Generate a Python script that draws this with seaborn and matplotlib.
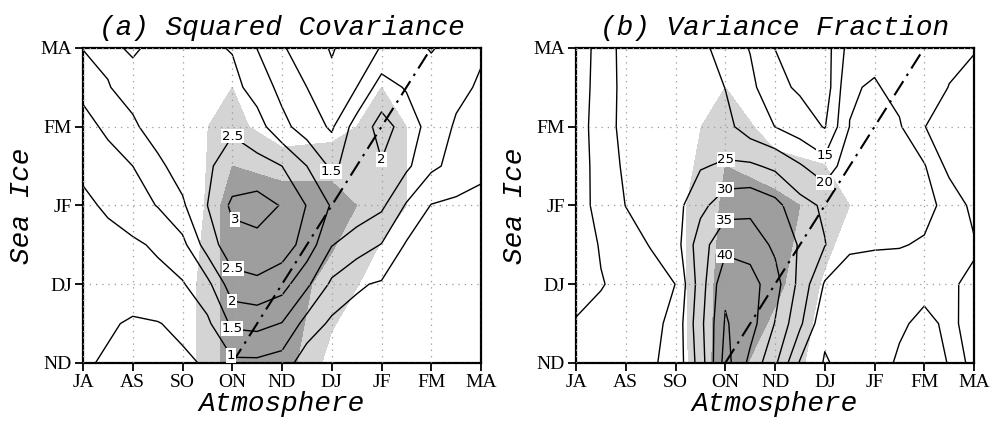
import numpy as np
import matplotlib
matplotlib.use("Agg")
import matplotlib.pyplot as plt
import seaborn as sns

# ---------------- data ----------------
atm_labels = ["JA", "AS", "SO", "ON", "ND", "DJ", "JF", "FM", "MA"]
ice_labels = ["ND", "DJ", "JF", "FM", "MA"]
titles = ["(a) Squared Covariance", "(b) Variance Fraction"]
cov_levels = [0.5, 1, 1.5, 2, 2.5, 3]
vf_levels = [10, 15, 20, 25, 30, 35, 40, 45]
sig_levels = [90, 95, 101]
lead = 1  # atmosphere leads sea ice by one month (dash-dot reference line)

# squared covariance, half-season grid, rows ND -> MA (bottom -> top), cols JA -> MA
cov_r0 = [0.55, 0.45, 0.30, 0.32, 0.42, 0.55, 0.90, 0.90, 0.78, 0.20, 0.18, 0.17, 0.16, 0.17, 0.16, 0.15, 0.14]
cov_r1 = [0.60, 0.55, 0.45, 0.48, 0.60, 0.90, 1.60, 1.65, 1.48, 0.80, 0.40, 0.35, 0.30, 0.28, 0.25, 0.22, 0.20]
cov_r2 = [0.70, 0.68, 0.72, 0.85, 0.96, 1.35, 2.30, 2.40, 2.20, 1.60, 0.90, 0.55, 0.45, 0.35, 0.30, 0.28, 0.25]
cov_r3 = [0.80, 0.85, 0.92, 1.07, 1.35, 2.25, 2.80, 2.85, 2.75, 2.30, 1.52, 1.25, 0.98, 0.45, 0.35, 0.30, 0.30]
cov_r4 = [0.90, 1.07, 1.30, 1.52, 1.93, 2.50, 3.10, 3.20, 2.97, 2.48, 1.95, 1.80, 1.60, 0.95, 0.48, 0.40, 0.38]
cov_r5 = [1.10, 1.30, 1.50, 1.90, 2.20, 2.45, 2.66, 2.65, 2.50, 2.00, 1.40, 1.75, 1.97, 1.60, 1.10, 0.85, 0.60]
cov_r6 = [1.33, 1.60, 1.93, 2.20, 2.35, 2.45, 2.45, 2.20, 1.65, 1.25, 0.93, 1.74, 2.15, 1.85, 1.25, 0.95, 0.80]
cov_r7 = [1.63, 1.98, 2.15, 2.25, 2.30, 2.30, 2.15, 1.80, 1.35, 1.00, 0.65, 1.00, 1.75, 1.45, 1.20, 1.10, 0.95]
cov_r8 = [2.02, 2.08, 1.95, 2.10, 2.10, 2.08, 1.97, 1.49, 1.04, 0.80, 0.45, 0.80, 1.02, 1.15, 0.97, 1.15, 1.05]

# variance fraction (%)
vf_r0 = [16.0, 17.0, 18.0, 19.4, 21.5, 32.4, 47.0, 38.7, 31.0, 19.5, 14.6, 16.5, 16.5, 14.5, 13.0, 15.2, 14.9]
vf_r1 = [15.2, 16.0, 17.0, 18.5, 21.5, 33.5, 45.5, 42.0, 34.8, 26.0, 16.0, 16.5, 16.0, 15.5, 14.2, 15.6, 14.0]
vf_r2 = [14.0, 14.8, 16.0, 17.5, 20.05, 32.5, 44.0, 42.0, 37.0, 28.5, 19.5, 17.5, 17.5, 17.0, 16.0, 15.5, 14.2]
vf_r3 = [12.8, 15.3, 17.5, 20.3, 22.8, 33.0, 38.5, 38.0, 34.0, 29.5, 25.2, 20.8, 20.4, 20.3, 19.5, 17.0, 15.5]
vf_r4 = [13.0, 16.5, 20.1, 22.5, 23.3, 28.5, 33.0, 33.5, 31.5, 26.8, 24.2, 23.5, 24.0, 23.0, 21.5, 18.5, 13.5]
vf_r5 = [13.0, 16.6, 21.0, 23.5, 24.5, 24.6, 25.7, 25.8, 24.0, 20.5, 17.0, 23.0, 24.0, 22.5, 20.4, 13.5, 12.5]
vf_r6 = [13.2, 16.8, 22.0, 24.0, 24.5, 24.5, 21.5, 17.5, 14.95, 12.5, 9.7, 20.1, 22.0, 20.5, 15.1, 13.0, 12.5]
vf_r7 = [13.2, 16.4, 22.0, 23.5, 24.0, 23.0, 19.9, 16.3, 11.3, 9.3, 7.0, 19.5, 20.5, 18.5, 17.0, 14.9, 13.5]
vf_r8 = [13.0, 16.3, 22.3, 23.0, 23.0, 21.3, 17.9, 14.75, 9.95, 7.0, 7.5, 17.0, 18.5, 18.0, 17.0, 16.0, 15.3]

# significance (confidence %, season grid), rows ND -> MA
sig_a_r0 = [50, 60, 87.0, 97.5, 98.0, 88.0, 70.0, 60, 50]
sig_a_r1 = [55, 65, 87.0, 97.5, 98.0, 93.0, 87.5, 70, 60]
sig_a_r2 = [50, 60, 83.3, 98.5, 98.5, 98.0, 92.0, 88, 70]
sig_a_r3 = [55, 62, 88.4, 91.5, 87.0, 88.0, 92.0, 88, 65]
sig_a_r4 = [60, 65, 75.0, 88.5, 82.0, 80.0, 88.0, 80, 70]

sig_b_r0 = [60, 65, 87.3, 97.9, 91.5, 89.0, 75, 70, 60]
sig_b_r1 = [60, 66, 87.9, 97.1, 96.4, 89.3, 75, 70, 60]
sig_b_r2 = [60, 66, 88.3, 95.9, 97.0, 93.0, 87, 72, 62]
sig_b_r3 = [60, 65, 85.6, 94.1, 87.0, 87.2, 75, 70, 60]
sig_b_r4 = [55, 60, 70.0, 85.9, 78.0, 75.0, 70, 65, 55]

cov = np.array([cov_r0, cov_r1, cov_r2, cov_r3, cov_r4, cov_r5, cov_r6, cov_r7, cov_r8])
vf = np.array([vf_r0, vf_r1, vf_r2, vf_r3, vf_r4, vf_r5, vf_r6, vf_r7, vf_r8])
sig_a = np.array([sig_a_r0, sig_a_r1, sig_a_r2, sig_a_r3, sig_a_r4])
sig_b = np.array([sig_b_r0, sig_b_r1, sig_b_r2, sig_b_r3, sig_b_r4])

# ---------------- style ----------------
sns.set_style("ticks")
plt.rcParams["font.family"] = ["DejaVu Sans"]
for key in ["text.color", "axes.labelcolor", "xtick.color", "ytick.color", "axes.edgecolor"]:
    plt.rcParams[key] = "black"
plt.rcParams["axes.linewidth"] = 1.6

LIGHT = "#d4d4d4"
DARK = "#9e9e9e"
TICKFONT = dict(family="Liberation Serif", size=14, color="black")
LABFONT = dict(family="Liberation Mono", style="italic", size=20, color="black")

nx, ny = len(atm_labels), len(ice_labels)
xc = np.arange(nx)
yc = np.arange(ny)
xf = np.linspace(0, nx - 1, cov.shape[1])
yf = np.linspace(0, ny - 1, cov.shape[0])

fig = plt.figure(figsize=(9.93, 4.28), dpi=100)
ax_a = fig.add_axes([0.0836, 0.152, 0.4008, 0.736])
ax_b = fig.add_axes([0.5801, 0.152, 0.4008, 0.736])

label_spots_a = {
    2.5: [(3.0, 2.88), (3.0, 1.17)],
    3: [(3.02, 1.75)],
    2: [(3.0, 0.78), (6.0, 2.56)],
    1.5: [(3.0, 0.44), (4.96, 2.42)],
    1: [(3.02, 0.11)],
}
label_spots_b = {
    25: [(3.02, 2.62)],
    30: [(3.0, 2.2)],
    35: [(3.0, 1.8)],
    40: [(3.0, 1.36)],
    15: [(5.0, 2.64)],
    20: [(5.0, 2.29)],
}


def draw(ax, field, sig, levels, title, spots):
    ax.contourf(xc, yc, sig, levels=sig_levels, colors=[LIGHT, DARK], zorder=0)
    for lev in levels:
        cs = ax.contour(xf, yf, field, levels=[lev], colors="k", linewidths=1.0, zorder=2)
        if lev in spots:
            txts = ax.clabel(cs, manual=spots[lev], inline=False,
                             fmt=lambda v: f"{v:g}", fontsize=9.5)
            for t in txts:
                t.set_rotation(0)
                t.set_bbox(dict(facecolor="white", edgecolor="none", pad=0.6))
                t.set_zorder(4)
    # dash-dot line: sea-ice season vs atmosphere season leading by `lead`
    dx = [atm_labels.index(s) - lead for s in (ice_labels[0], ice_labels[-1])]
    dy = [0, ny - 1]
    sns.lineplot(x=dx, y=dy, ax=ax, color="k", linewidth=1.5, zorder=3)
    ax.lines[-1].set_linestyle((0, (8, 3, 1.2, 3)))
    ax.set_xlim(0, nx - 1)
    ax.set_ylim(0, ny - 1)
    ax.set_xticks(xc)
    ax.set_xticklabels(atm_labels, fontdict=TICKFONT)
    ax.set_yticks(yc)
    ax.set_yticklabels(ice_labels, fontdict=TICKFONT)
    ax.tick_params(direction="out", length=6, width=1.3, pad=2, colors="black")
    ax.grid(True, linestyle=(0, (1, 4)), color="#9a9a9a", linewidth=0.9)
    ax.set_axisbelow(False)
    for sp in ax.spines.values():
        sp.set_visible(True)
        sp.set_linewidth(1.6)
        sp.set_color("black")
    ax.set_xlabel("Atmosphere", fontdict=LABFONT, labelpad=0)
    ax.set_ylabel("Sea Ice", fontdict=LABFONT, labelpad=4)
    ax.set_title(title, fontdict=LABFONT, pad=9)


draw(ax_a, cov, sig_a, cov_levels, titles[0], label_spots_a)
draw(ax_b, vf, sig_b, vf_levels, titles[1], label_spots_b)

fig.savefig("out.png", dpi=100)
